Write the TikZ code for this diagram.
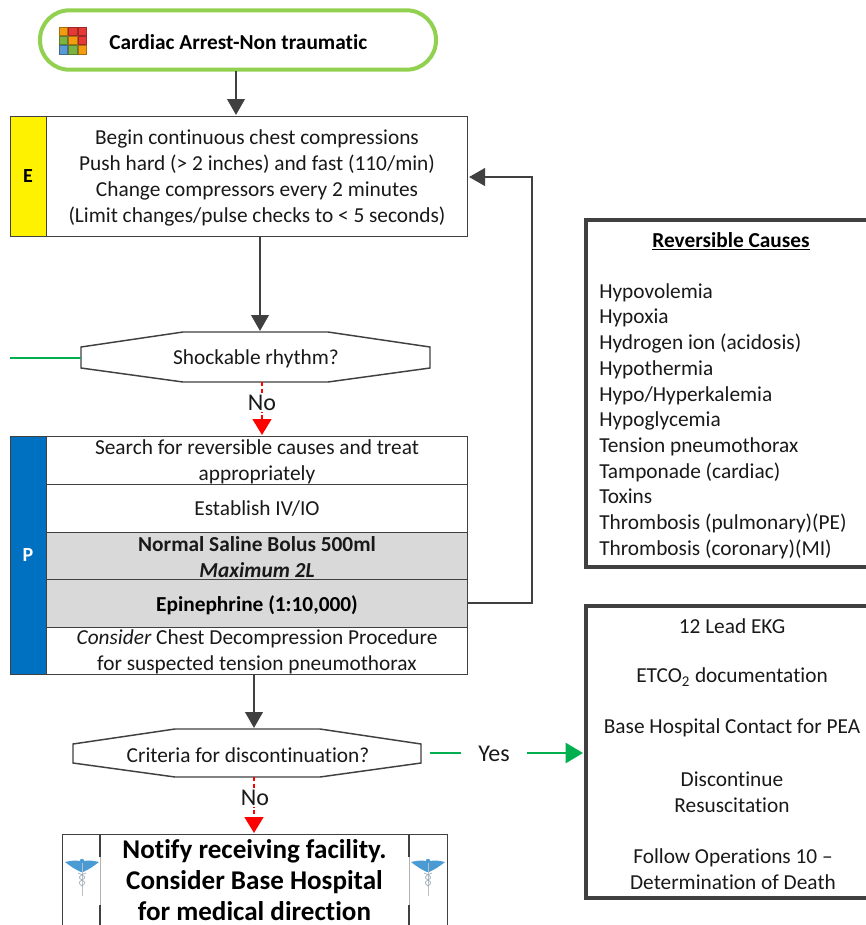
\documentclass[tikz,border=0pt]{standalone}
\usepackage{fontspec}
\setmainfont{Carlito}[Ligatures={NoCommon,TeX}]
\usetikzlibrary{arrows.meta}
\definecolor{dk}{HTML}{404040}
\definecolor{gbar}{HTML}{92D050}
\definecolor{gline}{HTML}{00B050}
\definecolor{pblue}{HTML}{0070C0}
\definecolor{rowgrey}{HTML}{D9D9D9}
\definecolor{capblue}{HTML}{4A9AD4}
\tikzset{
  x=0.75pt,y=-0.75pt,
  txt/.style={inner sep=0pt,align=center,font=\fontsize{16}{19.4}\selectfont,text=black!90},
  lbl/.style={inner sep=1pt,fill=white,font=\fontsize{18}{20}\selectfont,text=black!90},
  boldone/.style={inner sep=0pt,font=\fontsize{16}{19}\selectfont\bfseries,text=black},
  lefttxt/.style={inner sep=0pt,align=left,anchor=north west,font=\fontsize{16}{19.3}\selectfont,text=black!90},
  boldt/.style={inner sep=0pt,align=center,font=\fontsize{20.3}{23.5}\selectfont\bfseries,text=black},
  pt0/.style={inner sep=0pt,minimum size=0pt},
  flow/.style={draw=dk,line width=2.2pt,-{Triangle[length=12pt,width=13pt]}},
  red flow/.style={draw=red,line width=2pt,dash pattern=on 3pt off 2pt,-{Triangle[length=12pt,width=14pt,fill=red]}},
  green flow/.style={draw=gline,line width=2pt},
  thinbox/.style={draw=dk,line width=0.55pt},
  heavybox/.style={draw=dk,line width=3pt},
}
\newcommand{\caduceus}[2]{%
  \begin{scope}[shift={(#1,#2)}]
    \fill[capblue] (-17,-1) .. controls (-8,-3) and (-3,-3) .. (0,-1) .. controls (3,-3) and (8,-3) .. (17,-1)
       .. controls (12,3) and (6,7) .. (1,9) -- (-1,9) .. controls (-6,7) and (-12,3) .. (-17,-1) -- cycle;
    \fill[capblue] (0,-2) circle (2.2);
    \draw[gray!50,line width=0.5pt] (0,0) -- (0,33);
    \draw[capblue!40!gray!70,line width=0.5pt] (-4,10) .. controls (4,13) and (4,15) .. (0,17) .. controls (-4,19) and (-3,21) .. (0,23);
    \draw[capblue!40!gray!70,line width=0.5pt] (4,10) .. controls (-4,13) and (-4,15) .. (0,17) .. controls (4,19) and (3,21) .. (0,23);
  \end{scope}}
\begin{document}
\begin{tikzpicture}
\useasboundingbox (0,0) rectangle (866,925);
% start
\node[pt0,draw=gbar,line width=3pt,rounded corners=22pt,minimum width=297pt,minimum height=44.5pt] (start) at (238,40) {};
\foreach \cx/\cy/\cc in {0/0/F39C12,1/0/E53935,2/0/E53935,0/1/7CB342,1/1/F39C12,2/1/E53935,0/2/5B9BD5,1/2/7CB342,2/2/F39C12}{
  \definecolor{cellc}{HTML}{\cc}
  \fill[cellc,draw=cellc!70!black,line width=0.3pt] ({59+\cx*9.5},{27+\cy*9.2}) rectangle ++(8.6,8.3);
}
\node[boldone,anchor=west] (startt) at (109,42.5) {Cardiac Arrest-Non traumatic};
\coordinate (startB) at (236,71);
\coordinate (eT) at (236,115);
% E box
\node[pt0,thinbox,fill=white,minimum width=342.75pt,minimum height=90pt] (ebox) at (238.5,176) {};
\node[pt0,thinbox,fill=yellow,minimum width=27pt,minimum height=90pt,font=\fontsize{15}{18}\selectfont\bfseries] (ebar) at (28,176) {E};
\node[txt] (etext) at (257,178) {Begin continuous chest compressions\\Push hard (> 2 inches) and fast (110/min)\\Change compressors every 2 minutes\\(Limit changes/pulse checks to < 5 seconds)};
% Shockable
\coordinate (s1) at (81,347); \coordinate (s2) at (183,332); \coordinate (s3) at (328,332); \coordinate (s4) at (430,347);
\coordinate (s5) at (430,368); \coordinate (s6) at (328,382); \coordinate (s7) at (183,382); \coordinate (s8) at (81,368);
\draw[thinbox,line width=1.1pt,fill=white] (s1)--(s2)--(s3)--(s4)--(s5)--(s6)--(s7)--(s8)--cycle;
\node[txt] (shock) at (256,359) {Shockable rhythm?};
\coordinate (shockL) at (81,358);
\coordinate (shockLfree) at (10,358);
\coordinate (shockB) at (262,382);
\coordinate (ebot) at (260,236);
\coordinate (shockT) at (260,331);
% P box
\node[pt0,thinbox,fill=white,minimum width=342.75pt,minimum height=178.5pt] (pbox) at (238.5,555) {};
\fill[rowgrey] (46,532) rectangle (467,627);
\draw[thinbox] (46,484) -- (467,484) (46,532) -- (467,532) (46,579) -- (467,579) (46,627) -- (467,627);
\draw[thinbox] (10,436) rectangle (467,674);
\node[pt0,thinbox,fill=pblue,minimum width=27pt,minimum height=178.5pt,text=white,font=\bfseries\fontsize{15}{18}\selectfont] (pbar) at (28,555) {P};
\node[txt] (p1) at (257,461.5) {Search for reversible causes and treat\\appropriately};
\node[txt] (p2) at (257,509) {Establish IV/IO};
\node[txt] (p3) at (257,557) {\bfseries Normal Saline Bolus 500ml\\\bfseries\itshape Maximum 2L};
\node[boldone] (p4) at (257,605) {Epinephrine (1:10,000)};
\node[txt] (p5) at (257,651.5) {\itshape Consider\upshape{} Chest Decompression Procedure\\for suspected tension pneumothorax};
\coordinate (pR) at (467,603);
\coordinate (b1) at (532,603);
\coordinate (b2) at (532,177);
\coordinate (eR) at (469,177);
\coordinate (pT) at (262,435);
\coordinate (pB) at (254,674);
% Criteria
\coordinate (c1) at (73,744); \coordinate (c2) at (175,729); \coordinate (c3) at (320,729); \coordinate (c4) at (421,744);
\coordinate (c5) at (421,763); \coordinate (c6) at (320,777); \coordinate (c7) at (175,777); \coordinate (c8) at (73,763);
\draw[thinbox,line width=1.1pt,fill=white] (c1)--(c2)--(c3)--(c4)--(c5)--(c6)--(c7)--(c8)--cycle;
\node[txt] (crit) at (248,755) {Criteria for discontinuation?};
\coordinate (critT) at (254,728);
\coordinate (critB) at (254,777);
\coordinate (critR) at (430,753);
% Notify
\draw[thinbox,line width=0.7pt] (62,925) -- (62,834) -- (447,834) -- (447,925);
\draw[thinbox,line width=0.8pt] (100,834) -- (100,857) (100,905) -- (100,925) (409,834) -- (409,857) (409,905) -- (409,925);
\draw[gray!60,line width=0.7pt] (100,857) -- (100,905) (409,857) -- (409,905);
\node[boldt] (notify) at (254.5,880) {Notify receiving facility.\\Consider Base Hospital\\for medical direction};
\caduceus{82}{863}
\caduceus{428}{863}
\coordinate (notT) at (254,833);
% Reversible causes
\draw[heavybox] (868,220) -- (586,220) -- (586,567) -- (868,567);
\node[boldone] (rtitle) at (731,241) {\underline{Reversible Causes}};
\node[lefttxt] (rlist) at (599,283) {Hypovolemia\\Hypoxia\\Hydrogen ion (acidosis)\\Hypothermia\\Hypo/Hyperkalemia\\Hypoglycemia\\Tension pneumothorax\\Tamponade (cardiac)\\Toxins\\Thrombosis (pulmonary)(PE)\\Thrombosis (coronary)(MI)};
% Right box
\draw[heavybox] (868,606) -- (586,606) -- (586,898) -- (868,898);
\node[txt] (r1) at (732,626) {12 Lead EKG};
\node[txt] (r2) at (732,677) {ETCO\textsubscript{2} documentation};
\node[txt] (r3) at (732,728) {Base Hospital Contact for PEA};
\node[txt] (r4) at (732,792) {Discontinue\\Resuscitation};
\node[txt] (r5) at (733,869) {Follow Operations 10 --\\Determination of Death};
\coordinate (rL) at (583,753);
% connectors
\draw[flow] (startB) -- (eT);
\draw[flow] (ebot) -- (shockT);
\draw[green flow] (shockLfree) -- (shockL);
\draw[red flow] (shockB) -- (pT);
\node[lbl] (no1) at (262,403) {No};
\draw[flow] (pR) -- (b1) -- (b2) -- (eR);
\draw[flow] (pB) -- (critT);
\draw[red flow] (critB) -- (notT);
\node[lbl] (no2) at (255,798) {No};
\draw[green flow,-{Triangle[length=13pt,width=15pt]}] (critR) -- (rL);
\node[lbl,inner xsep=13pt,inner ysep=2pt] (yes) at (494,754) {Yes};
\end{tikzpicture}
\end{document}
